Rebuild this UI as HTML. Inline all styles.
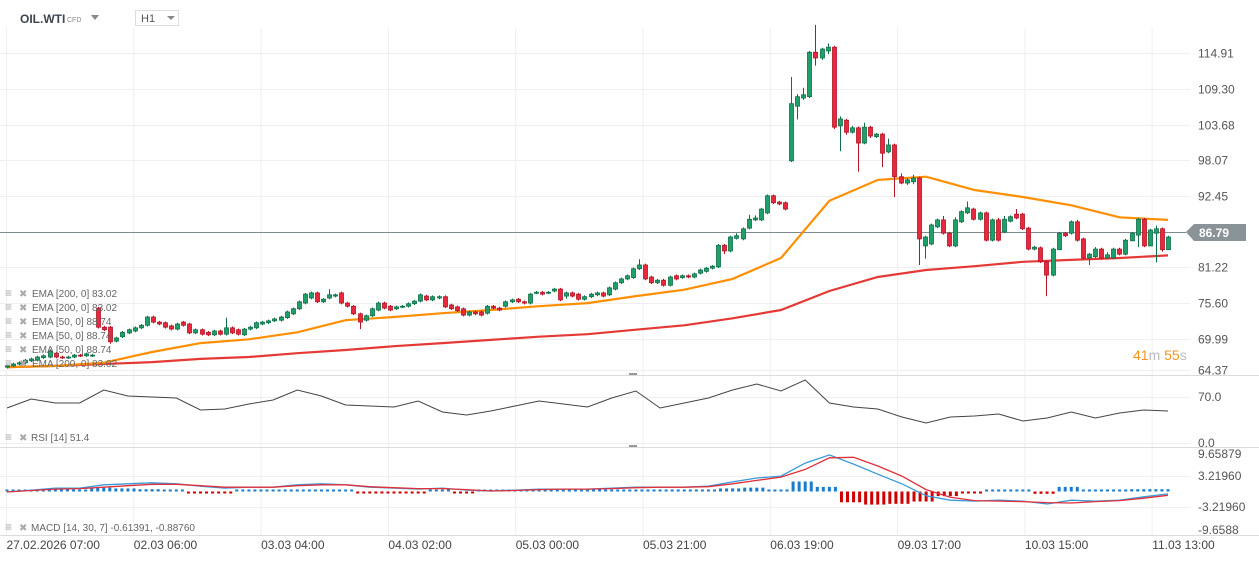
<!DOCTYPE html>
<html><head><meta charset="utf-8">
<style>
html,body{margin:0;padding:0;background:#fff;}
body{width:1259px;height:561px;overflow:hidden;font-family:"Liberation Sans",sans-serif;}
svg text{font-family:"Liberation Sans",sans-serif;}
</style></head>
<body>
<svg id="chart" width="1259" height="561" viewBox="0 0 1259 561" xmlns="http://www.w3.org/2000/svg">
  <g id="grid"></g>
  <g id="ema"></g>
  <g id="candles"></g>
  <g id="rsi"></g>
  <g id="macd"></g>
  <g id="axes"></g>
  <g>
    <text x="20" y="23" font-size="12" font-weight="bold" fill="#3c4650">OIL.WTI</text>
    <text x="67" y="22" font-size="7" fill="#888">CFD</text>
    <path d="M91 15 L99 15 L95 20 Z" fill="#888"/>
    <rect x="135.5" y="10.5" width="43" height="15" fill="#fff" stroke="#ddd"/>
    <text x="141" y="22" font-size="11" fill="#555">H1</text>
    <path d="M167 16 L175 16 L171 20 Z" fill="#888"/>
  </g>
  <g>
    <path d="M1186 232 L1194 224 L1246 224 L1246 241 L1194 241 Z" fill="#8a9397"/>
    <text x="1199" y="237" font-size="12" font-weight="bold" fill="#fff">86.79</text>
  </g>
  <text x="1133" y="360" font-size="14"><tspan fill="#f7941d">41</tspan><tspan fill="#bbb">m </tspan><tspan fill="#f7941d">55</tspan><tspan fill="#bbb">s</tspan></text>
  <g id="legend"></g>
</svg>
<script>
const opens=[65.5,65.7,66.0,66.2,66.5,66.6,67.0,67.1,67.7,67.1,67.0,67.1,67.4,67.3,67.3,74.8,71.8,71.8,69.6,70.3,70.9,71.2,71.7,72.1,73.4,72.6,72.5,72.0,71.5,72.6,72.3,70.9,71.4,71.0,70.6,71.2,70.7,71.7,71.4,70.6,71.5,71.7,72.3,72.5,72.8,72.9,73.3,73.9,74.7,75.6,76.4,77.2,75.8,76.4,76.7,77.2,75.6,75.1,73.9,72.9,73.6,74.5,75.6,75.1,74.7,75.0,75.1,75.5,75.9,76.7,76.1,76.4,76.6,75.3,75.0,74.7,73.7,74.2,74.2,74.0,75.1,74.8,75.1,75.8,76.2,75.8,75.6,77.2,77.3,77.2,77.5,77.8,76.7,77.2,77.0,76.2,76.6,76.9,77.2,76.9,77.8,78.8,79.4,79.6,81.0,81.6,79.7,78.8,79.2,78.4,79.9,79.6,79.9,79.7,80.3,80.6,81.1,81.3,84.7,83.8,85.8,85.7,87.4,88.7,88.7,89.8,92.5,91.5,91.4,98.0,106.6,107.9,108.1,115.1,114.2,115.3,115.9,103.5,104.4,102.5,103.2,100.8,103.3,101.8,102.2,99.4,100.5,95.5,94.5,94.7,95.3,84.6,84.9,87.6,88.7,86.6,84.6,88.4,89.8,90.4,88.8,89.8,85.5,88.7,86.8,88.5,89.6,89.6,87.4,84.1,84.3,82.1,80.0,84.0,86.6,86.6,88.4,85.7,82.7,82.9,84.1,82.7,82.7,84.1,83.3,85.4,86.3,88.8,84.6,86.6,87.3,84.0,86.0];
const closes=[65.7,66.0,66.2,66.6,66.8,67.1,67.3,68.0,67.1,67.0,67.1,67.4,67.3,67.6,67.4,71.8,71.4,69.5,70.1,71.0,71.4,71.7,72.1,73.4,72.6,72.3,71.8,71.5,72.3,72.1,70.9,71.4,70.7,70.6,71.2,70.7,71.7,70.9,70.7,71.5,71.8,72.5,72.6,72.8,73.1,73.4,74.2,74.7,75.8,77.0,77.2,75.8,76.2,76.9,76.9,75.6,75.1,73.9,72.6,73.6,74.7,75.6,74.8,74.5,75.0,75.1,75.5,75.9,76.9,76.1,76.6,76.6,75.0,74.7,74.4,73.7,74.2,73.9,73.7,75.1,74.8,74.5,75.8,76.1,75.8,75.6,77.0,77.3,77.0,77.3,77.8,76.1,77.2,76.7,76.2,76.6,77.0,77.2,76.7,78.0,78.8,79.4,79.9,81.0,81.6,79.4,78.8,79.2,78.4,79.7,79.4,79.9,79.7,80.2,80.8,81.1,81.4,84.7,83.8,86.0,86.2,87.3,88.8,89.0,90.4,92.5,91.4,91.2,90.4,107.0,108.1,108.4,115.1,114.2,115.6,115.9,103.3,104.6,102.5,103.2,100.8,103.3,101.9,102.2,99.2,100.5,95.5,94.5,95.0,95.3,85.7,86.0,87.9,88.7,86.6,84.6,88.7,90.0,90.6,88.8,89.8,85.5,88.7,85.5,88.8,89.2,89.0,87.3,84.1,84.4,82.1,80.0,84.1,86.6,86.2,88.4,85.5,82.7,83.3,84.1,82.7,83.2,84.1,83.3,85.5,86.6,88.8,84.6,87.1,87.3,84.0,86.0,86.9];
const highs=[65.9,66.2,66.4,66.8,67.0,67.3,67.5,68.3,67.9,67.3,67.3,67.6,67.6,67.8,67.6,75.0,72.0,72.0,70.3,71.2,71.6,71.9,72.3,73.6,73.6,72.8,72.7,72.2,72.5,72.8,72.5,71.6,71.6,71.2,71.4,71.4,73.3,71.9,71.6,71.7,72.0,72.7,72.8,73.0,73.3,73.6,74.4,74.9,76.0,77.2,77.4,77.4,76.4,77.8,77.1,77.4,75.8,75.3,74.1,73.8,74.9,75.8,75.8,75.3,75.2,75.3,75.7,76.1,77.1,76.9,76.8,76.8,76.8,75.5,75.2,74.9,74.4,74.4,74.4,75.3,75.3,75.0,76.0,76.3,76.4,76.0,77.2,77.5,77.5,77.5,78.0,78.0,77.4,77.4,77.2,76.8,77.2,77.4,77.4,78.2,79.0,79.6,80.1,81.2,82.5,81.8,79.9,79.4,79.4,79.9,80.1,80.1,80.1,80.4,81.0,81.3,81.6,84.9,84.9,86.2,86.6,87.5,89.5,89.4,90.6,92.7,92.7,91.7,91.6,111.2,108.5,109.5,115.3,119.4,115.8,116.5,116.1,105.0,104.6,103.5,103.4,104.0,103.5,102.4,102.4,101.5,100.7,96.0,95.3,95.8,95.5,86.2,88.1,88.9,89.3,86.8,89.1,90.2,91.6,90.6,90.0,90.0,88.9,89.0,89.3,89.4,90.4,89.8,87.6,84.6,84.5,82.3,84.3,86.8,86.8,88.6,88.7,85.9,83.5,84.4,84.3,83.6,84.3,84.3,85.7,86.8,89.0,89.0,87.3,87.8,87.5,86.2,87.2];
const lows=[65.3,65.5,65.8,66.0,66.3,66.4,66.8,66.9,66.9,66.8,66.8,66.9,67.1,67.1,67.1,71.6,71.2,69.2,69.4,70.1,70.7,71.0,71.5,71.9,72.4,72.1,71.6,71.3,71.3,71.9,70.7,70.7,70.5,70.4,70.4,70.5,70.5,70.7,70.5,70.4,71.3,71.5,72.1,72.3,72.6,72.7,73.1,73.7,74.5,75.4,76.2,75.6,75.6,76.2,76.5,75.4,74.9,73.7,71.5,72.7,73.4,74.3,74.6,74.3,74.5,74.8,74.9,75.3,75.7,75.9,75.9,76.2,74.8,74.5,74.2,73.5,73.5,73.7,73.5,73.8,74.6,74.3,74.9,75.6,75.6,75.4,75.4,77.0,76.8,77.0,77.3,75.9,76.3,76.5,76.0,76.0,76.4,76.7,76.5,76.7,77.6,78.6,79.2,79.4,80.8,79.2,78.6,78.6,78.2,78.2,79.2,79.4,79.5,79.5,80.1,80.4,80.9,81.1,83.3,83.6,85.6,85.5,87.2,88.5,88.5,89.6,91.2,91.0,90.2,97.8,104.5,107.6,107.9,113.0,113.9,114.8,103.0,99.5,102.1,102.3,96.3,100.6,101.6,101.6,97.0,99.2,92.3,94.3,94.2,94.3,81.6,82.6,84.7,87.4,86.4,84.4,84.4,88.2,89.6,88.6,88.6,85.3,85.3,85.3,86.6,88.3,88.8,87.1,83.9,83.9,81.9,76.7,79.8,84.4,86.0,86.4,85.3,82.5,81.6,82.7,82.5,82.5,82.5,83.1,83.1,85.9,84.4,84.4,86.4,82.0,83.7,85.8];
const ema50=[65.5,65.7,66.2,67.9,69.3,69.9,71.0,72.9,73.4,74.0,74.5,75.1,75.6,76.7,77.7,79.4,82.7,91.7,95.0,95.5,93.4,92.3,91.0,89.1,88.7];
const ema200=[65.5,65.7,66.0,66.3,66.8,67.1,67.7,68.2,68.8,69.3,69.8,70.3,70.7,71.4,72.1,73.2,74.5,77.5,79.7,80.8,81.4,82.1,82.4,82.7,83.1];
const rsiValues=[53.3,67,60.9,60.9,80.7,71.5,70,68.5,50.2,51.8,59.4,65.4,80.7,71.5,57.8,56.3,54.8,63.9,47.2,42.6,48.7,56.3,63.9,59.4,54.8,68.5,79.1,53.3,60.9,68.5,80.7,89.8,79.1,95.9,60.9,54.8,51.8,39.6,30.4,39.6,41.1,44.1,33.5,38.1,47.2,38.1,45.7,50.2,48.7];
const macdValues=[-0.1,0.3,0.7,0.7,1.4,1.6,1.8,1.6,1.1,0.7,0.9,0.9,1.4,1.6,1.4,0.9,0.7,0.5,0.7,0.3,0.1,0.3,0.5,0.5,0.5,0.7,0.9,0.9,0.9,1.1,2.0,2.8,3.2,5.9,7.6,5.7,3.6,1.6,-0.9,-1.8,-2.0,-1.8,-2.0,-2.6,-1.8,-2.0,-1.8,-1.1,-0.5];
const signalValues=[-0.1,0.2,0.5,0.6,0.9,1.2,1.5,1.5,1.2,0.9,0.9,0.9,1.2,1.4,1.4,1.0,0.8,0.6,0.6,0.4,0.1,0.2,0.4,0.5,0.5,0.6,0.8,0.9,0.9,1.0,1.6,2.3,3.0,4.6,7.0,7.1,5.3,3.2,0.4,-1.2,-1.9,-2.0,-2.1,-2.3,-2.4,-2.1,-1.9,-1.4,-0.8];
const priceTicks=["114.91","109.30","103.68","98.07","92.45","86.79","81.22","75.60","69.99","64.37"];
const timeTicks=["27.02.2026  07:00","02.03  06:00","03.03  04:00","04.03  02:00","05.03  00:00","05.03  21:00","06.03  19:00","09.03  17:00","10.03  15:00","11.03  13:00"];
const macdTicks=["9.65879","3.21960","-3.21960","-9.6588"];
const rsiTicks=["70.0","0.0"];
const legendItems=["EMA [200, 0] 83.02","EMA [200, 0] 83.02","EMA [50, 0] 88.74","EMA [50, 0] 88.74","EMA [50, 0] 88.74","EMA [200, 0] 83.02"];

const NS="http://www.w3.org/2000/svg";
function mk(tag,attrs,parent){const e=document.createElementNS(NS,tag);for(const k in attrs)e.setAttribute(k,attrs[k]);parent.appendChild(e);return e;}
const N=Math.min(opens.length,closes.length,highs.length,lows.length);
const X0=7,X1=1168;
const step=(X1-X0)/(N-1);
const xAt=i=>X0+i*step;
const yP=p=>232-(p-86.79)*6.35;
const yR=v=>443-v*0.657;
const yM=v=>491.5-v*4.81;

const grid=document.getElementById('grid');
for(let k=0;k<timeTicks.length;k++){
  const gx=6.5+k*127.3;
  const l=mk('line',{x1:gx,x2:gx,y1:28,y2:535,stroke:'#efefef','stroke-width':1},grid);
  
  
}
const axes=document.getElementById('axes');
priceTicks.forEach(t=>{
  const y=Math.round(yP(parseFloat(t)))+0.5;
  const yy=Math.min(y,370.5);
  const l=mk('line',{x1:0,x2:1190,y1:yy,y2:yy,stroke:'#efefef'},grid);
  
  
  const tx=mk('text',{x:1198,y:yy+4,'font-size':12,fill:'#555'},axes);
  tx.textContent=t;
  
  
});
[375.5,447.5,535.5].forEach(y=>{
  const l=mk('line',{x1:0,x2:1259,y1:y,y2:y,stroke:'#dcdcdc'},grid);
  
  
});
[375,447].forEach(y=>{
  const h=mk('rect',{x:629,y:y-2,width:8,height:2,fill:'#999'},grid);
  
  
});
[397.5,443.5,476.5,507.5].forEach(y=>{
  const l=mk('line',{x1:0,x2:1190,y1:y,y2:y,stroke:'#efefef'},grid);
  
  
});
const cpl=mk('line',{x1:0,x2:1186,y1:232.5,y2:232.5,stroke:'#7f8a8e','stroke-width':1},grid);



const emaG=document.getElementById('ema');
const emaStep=(X1-X0)/(ema50.length-1);
function emaPath(arr){return arr.map((v,j)=>(j?'L':'M')+(X0+j*emaStep).toFixed(1)+' '+yP(v).toFixed(1)).join(' ');}
const e200=mk('path',{d:emaPath(ema200),fill:'none',stroke:'#e53935','stroke-width':2.2},emaG);


const e50=mk('path',{d:emaPath(ema50),fill:'none',stroke:'#ff8f00','stroke-width':2.2},emaG);



const cg=document.getElementById('candles');
for(let i=0;i<N;i++){
  const o=opens[i],c=closes[i],h=highs[i],l=lows[i];
  const up=c>=o;
  const fill=up?'#1fa06b':'#e8283c', str=up?'#0f6e45':'#b01426';
  const x=Math.round(xAt(i));
  const g=mk('g',{},cg);
  
  
  mk('line',{x1:x+0.5,x2:x+0.5,y1:yP(Math.max(h,o,c)),y2:yP(Math.min(l,o,c)),stroke:str,'stroke-width':1},g);
  const yt=yP(Math.max(o,c)),yb=yP(Math.min(o,c));
  mk('rect',{x:x-1.5,y:yt,width:4,height:Math.max(1,yb-yt),fill:fill,stroke:str,'stroke-width':0.8},g);
}

const iStep=(X1-X0)/(rsiValues.length-1);
const xI=k=>X0+k*iStep;
const rg=document.getElementById('rsi');
const rp=mk('path',{d:rsiValues.map((v,k)=>(k?'L':'M')+xI(k).toFixed(1)+' '+yR(v).toFixed(1)).join(' '),fill:'none',stroke:'#444','stroke-width':1},rg);


rsiTicks.forEach(t=>{
  const tx=mk('text',{x:1198,y:yR(parseFloat(t))+4,'font-size':12,fill:'#555'},rg);
  tx.textContent=t;
  
  
});
const rl=mk('text',{x:31,y:441,'font-size':10,fill:'#666'},rg);
rl.textContent='RSI [14]  51.4';



const mg=document.getElementById('macd');
for(let k=0;k<macdValues.length;k++){
  const d=macdValues[k]-signalValues[k];
  let hpx=d*4.81*1.6;
  if(Math.abs(hpx)<2)hpx=d>=0?2:-2;
  for(let s=-2;s<2;s++){
    const bx=xI(k)+s*6.05;
    if(bx<X0-2||bx>X1+2)continue;
    const bar=mk('rect',{x:bx-1.5,y:hpx>0?491.5-hpx:491.5,width:3,height:Math.abs(hpx),fill:d>=0?'#1a7ccc':'#d00000'},mg);
    
    
  }
}
const mp=mk('path',{d:macdValues.map((v,k)=>(k?'L':'M')+xI(k).toFixed(1)+' '+yM(v).toFixed(1)).join(' '),fill:'none',stroke:'#3a9ad9','stroke-width':1.3},mg);


const sp=mk('path',{d:signalValues.map((v,k)=>(k?'L':'M')+xI(k).toFixed(1)+' '+yM(v).toFixed(1)).join(' '),fill:'none',stroke:'#e0303a','stroke-width':1.3},mg);


const macdY=[454,476,507,530];
macdTicks.forEach((t,i)=>{
  const tx=mk('text',{x:1198,y:macdY[i]+4,'font-size':12,fill:'#555'},mg);
  tx.textContent=t;
  
  
});
const ml=mk('text',{x:31,y:531,'font-size':10,fill:'#666'},mg);
ml.textContent='MACD [14, 30, 7]  -0.61391,  -0.88760';



function icons(y,parent){
  const a=mk('text',{x:5,y:y,'font-size':12,fill:'#aaa'},parent);
  a.textContent='≡';
  
  
  const b=mk('text',{x:19,y:y,'font-size':10,fill:'#aaa'},parent);
  b.textContent='✖';
  
  
}
icons(441,rg);icons(531,mg);

timeTicks.forEach((t,k)=>{
  const tx=mk('text',{x:6.5+k*127.3,y:549,'font-size':12,fill:'#444','xml:space':'preserve'},axes);
  tx.textContent=t;
  
  
});

const lg=document.getElementById('legend');
const legY=[297,311,325,339,353,367];
legendItems.forEach((t,i)=>{
  icons(legY[i],lg);
  const tx=mk('text',{x:32,y:legY[i],'font-size':10,fill:'#666'},lg);
  tx.textContent=t;
  
  
});
</script>
</body></html>
